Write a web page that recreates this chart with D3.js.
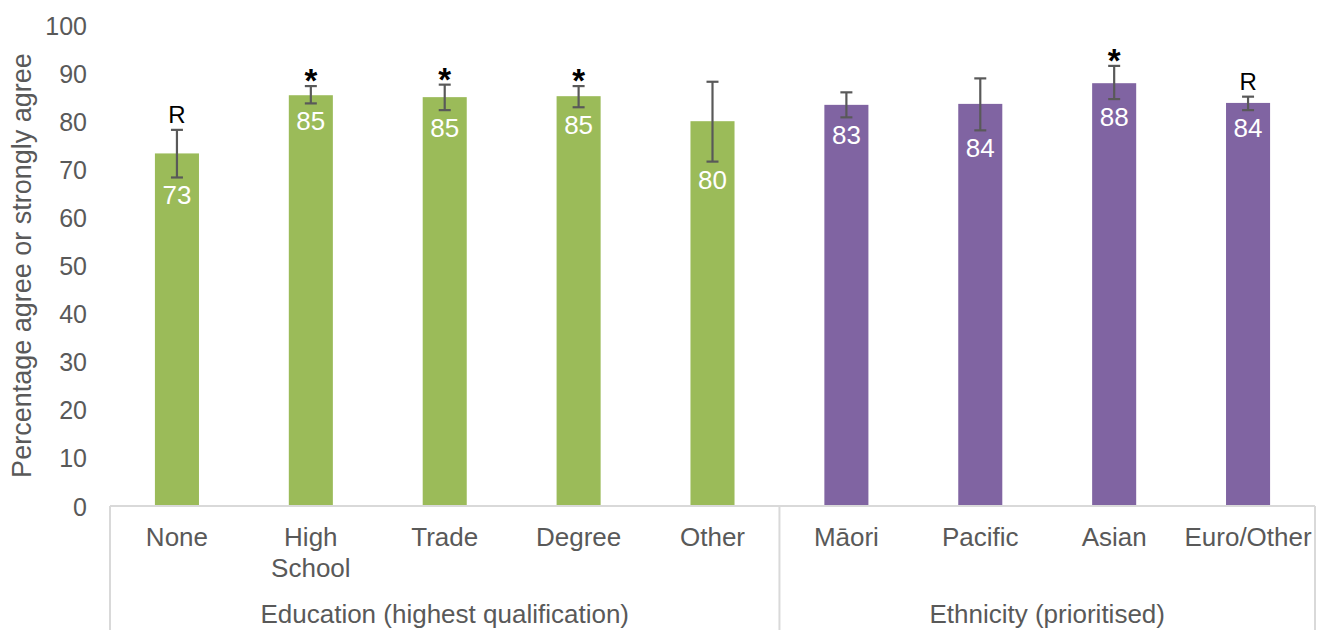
<!DOCTYPE html>
<html>
<head>
<meta charset="utf-8">
<script src="https://cdn.jsdelivr.net/npm/d3@7"></script>
<style>
  html, body { margin: 0; padding: 0; background: #fff; }
  svg { display: block; font-family: "Liberation Sans", Arial, sans-serif; }
</style>
</head>
<body>
<svg id="chart" width="1327" height="630"></svg>
<script>
// Survey results: percentage who agree or strongly agree, by education and ethnicity
const categories = ["None", "High School", "Trade", "Degree", "Other", "Māori", "Pacific", "Asian", "Euro/Other"];
const groups = ["Education (highest qualification)", "Education (highest qualification)", "Education (highest qualification)",
                "Education (highest qualification)", "Education (highest qualification)",
                "Ethnicity (prioritised)", "Ethnicity (prioritised)", "Ethnicity (prioritised)", "Ethnicity (prioritised)"];
const values = [73.3, 85.4, 85.0, 85.2, 80.0, 83.4, 83.6, 87.9, 83.8];
const ciLower = [68.3, 83.7, 82.3, 82.9, 71.6, 80.8, 78.1, 84.6, 82.3];
const ciUpper = [78.2, 87.3, 87.6, 87.3, 88.2, 86.0, 88.9, 91.5, 85.1];
const flags = ["R", "*", "*", "*", "", "", "", "*", "R"];
const yTicks = [0, 10, 20, 30, 40, 50, 60, 70, 80, 90, 100];
const groupColors = { "Education (highest qualification)": "#9BBB59", "Ethnicity (prioritised)": "#8064A2" };

const rows = categories.map((c, i) => ({
  cat: c, group: groups[i], value: values[i], lo: ciLower[i], hi: ciUpper[i], flag: flags[i]
}));

const svg = d3.select("#chart");
const plotLeft = 110, plotRight = 1315, plotTop = 25, plotBottom = 506;
const textColor = "#595959";
const fontSize = 26;

const x = d3.scaleBand().domain(categories).range([plotLeft, plotRight])
  .paddingInner(0.671).paddingOuter(0.3355);
const step = x.step();
const cx = d => x(d) + x.bandwidth() / 2;

const y = d3.scaleLinear().domain([0, 100]).range([plotBottom, plotTop]);

// Y axis tick labels (no axis line, no gridlines)
const yAxis = d3.axisLeft(y).tickValues(yTicks).tickSize(0).tickPadding(0);
const yg = svg.append("g").attr("transform", `translate(${plotLeft - 23},0)`).call(yAxis);
yg.select(".domain").remove();
yg.attr("font-family", null).attr("font-size", null);
yg.selectAll("text")
  .attr("fill", textColor)
  .style("font-size", "25px")
  .attr("dy", "0.36em");

// Y axis title
svg.append("text")
  .attr("transform", `translate(31,${(plotTop + plotBottom) / 2}) rotate(-90)`)
  .attr("text-anchor", "middle")
  .attr("fill", textColor)
  .style("font-size", "27px")
  .text("Percentage agree or strongly agree");

// Bars
svg.append("g").selectAll("rect").data(rows).join("rect")
  .attr("x", d => x(d.cat))
  .attr("width", x.bandwidth())
  .attr("y", d => y(d.value))
  .attr("height", d => y(0) - y(d.value))
  .attr("fill", d => groupColors[d.group]);

// Error bars
const eb = svg.append("g").attr("stroke", "#595959").attr("stroke-width", 2.2).attr("fill", "none");
rows.forEach(d => {
  const c = cx(d.cat);
  eb.append("line").attr("x1", c).attr("x2", c).attr("y1", y(d.hi)).attr("y2", y(d.lo));
  eb.append("line").attr("x1", c - 6).attr("x2", c + 6).attr("y1", y(d.hi)).attr("y2", y(d.hi));
  eb.append("line").attr("x1", c - 6).attr("x2", c + 6).attr("y1", y(d.lo)).attr("y2", y(d.lo));
});

// Value labels, placed just under the lower confidence limit
svg.append("g").selectAll("text").data(rows).join("text")
  .attr("x", d => cx(d.cat))
  .attr("y", d => Math.max(y(d.lo), y(d.value)) + 27)
  .attr("text-anchor", "middle")
  .attr("fill", "#fff")
  .style("font-size", fontSize + "px")
  .text(d => d3.format(".0f")(d.value));

// Significance markers above the upper confidence limit
svg.append("g").selectAll("text").data(rows.filter(d => d.flag)).join("text")
  .attr("x", d => cx(d.cat))
  .attr("y", d => d.flag === "*" ? y(d.hi) + 6 : y(d.hi) - 7)
  .attr("text-anchor", "middle")
  .attr("fill", "#000")
  .style("font-size", d => d.flag === "*" ? "33px" : "24px")
  .style("font-weight", d => d.flag === "*" ? "bold" : "normal")
  .text(d => d.flag);

// Category axis: baseline and group separators
const axisColor = "#D9D9D9";
svg.append("line").attr("x1", plotLeft).attr("x2", plotRight).attr("y1", plotBottom).attr("y2", plotBottom)
  .attr("stroke", axisColor).attr("stroke-width", 2);

const groupNames = Array.from(new Set(groups));
const groupSpans = groupNames.map(g => {
  const members = rows.filter(d => d.group === g);
  return {
    name: g,
    x0: cx(members[0].cat) - step / 2,
    x1: cx(members[members.length - 1].cat) + step / 2
  };
});
const edges = Array.from(new Set(groupSpans.flatMap(s => [s.x0, s.x1])));
svg.append("g").selectAll("line").data(edges).join("line")
  .attr("x1", d => d).attr("x2", d => d)
  .attr("y1", plotBottom).attr("y2", 630)
  .attr("stroke", axisColor).attr("stroke-width", 2);

// Category labels (wrapped onto lines)
const catLines = { "High School": ["High", "School"] };
const cl = svg.append("g").attr("fill", textColor).style("font-size", fontSize + "px").attr("text-anchor", "middle");
rows.forEach(d => {
  const lines = catLines[d.cat] || [d.cat];
  const t = cl.append("text").attr("x", cx(d.cat)).attr("y", 546);
  lines.forEach((l, i) => t.append("tspan").attr("x", cx(d.cat)).attr("dy", i === 0 ? 0 : 31).text(l));
});

// Group labels
svg.append("g").selectAll("text").data(groupSpans).join("text")
  .attr("x", d => (d.x0 + d.x1) / 2)
  .attr("y", 623)
  .attr("text-anchor", "middle")
  .attr("fill", textColor)
  .style("font-size", fontSize + "px")
  .text(d => d.name);
</script>
</body>
</html>
